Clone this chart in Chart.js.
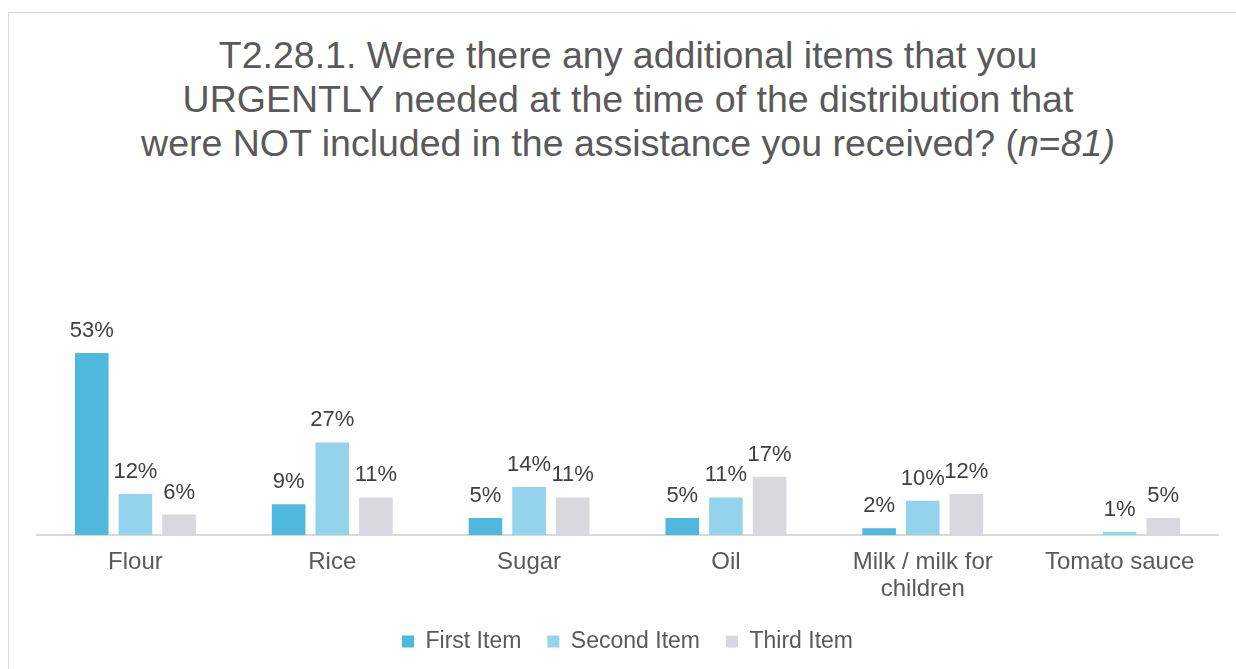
<!DOCTYPE html>
<html>
<head>
<meta charset="utf-8">
<script src="https://cdn.jsdelivr.net/npm/chart.js@4.4.1/dist/chart.umd.min.js"></script>
<style>
  html, body { margin: 0; padding: 0; background: #fff; }
  body { width: 1236px; height: 669px; overflow: hidden; position: relative; font-family: "Liberation Sans", Arial, sans-serif; }
  #frame { position: absolute; left: 8px; top: 12px; width: 1240px; height: 680px; border: 1px solid #d9d9d9; box-sizing: border-box; }
  #title { position: absolute; left: 10px; top: 33px; width: 1236px; text-align: center; color: #595959; font-size: 37.5px; line-height: 44px; }
  #wrap { position: absolute; left: 0; top: 0; width: 1236px; height: 669px; }
</style>
</head>
<body>
<div id="frame"></div>
<div id="title">T2.28.1. Were there any additional items that you<br>URGENTLY needed at the time of the distribution that<br>were NOT included in the assistance you received? (<i>n</i>=<i>81)</i></div>
<div id="wrap"><canvas id="items-chart"></canvas></div>
<script>
const categories = ['Flour', 'Rice', 'Sugar', 'Oil', ['Milk / milk for', 'children'], 'Tomato sauce'];
const firstItem = [53, 9, 5, 5, 2, null];
const secondItem = [12, 27, 14, 11, 10, 1];
const thirdItem = [6, 11, 11, 17, 12, 5];

const FONT = '"Liberation Sans", Arial, sans-serif';

// percentage labels above each bar
const barLabels = {
  id: 'barLabels',
  afterDatasetsDraw(chart) {
    const ctx = chart.ctx;
    ctx.save();
    ctx.font = '22px ' + FONT;
    ctx.fillStyle = '#404040';
    ctx.textAlign = 'center';
    ctx.textBaseline = 'alphabetic';
    chart.data.datasets.forEach((ds, i) => {
      chart.getDatasetMeta(i).data.forEach((bar, j) => {
        const v = ds.data[j];
        if (v === null || v === undefined) return;
        ctx.fillText(v + '%', bar.x, bar.y - 16);
      });
    });
    ctx.restore();
  }
};

const barStyle = {
  barPercentage: 0.77,
  categoryPercentage: 0.665,
  borderWidth: 0
};

new Chart(document.getElementById('items-chart'), {
  type: 'bar',
  data: {
    labels: categories,
    datasets: [{
      label: 'First Item',
      data: firstItem,
      backgroundColor: '#4eb8dd',
      ...barStyle
    }, {
      label: 'Second Item',
      data: secondItem,
      backgroundColor: '#93d3eb',
      ...barStyle
    }, {
      label: 'Third Item',
      data: thirdItem,
      backgroundColor: '#d7d9de',
      ...barStyle
    }]
  },
  options: {
    responsive: true,
    maintainAspectRatio: false,
    animation: false,
    layout: {
      padding: { left: 37, right: 18, top: 329, bottom: 6 }
    },
    plugins: {
      legend: {
        position: 'bottom',
        labels: {
          boxWidth: 12,
          boxHeight: 12,
          padding: 26,
          color: '#595959',
          font: { family: FONT, size: 23 }
        }
      },
      tooltip: { enabled: false }
    },
    scales: {
      x: {
        grid: { display: false, drawTicks: false },
        border: { color: '#d9d9d9', width: 2 },
        ticks: {
          color: '#595959',
          padding: 14,
          font: { family: FONT, size: 24, lineHeight: 1.12 },
          maxRotation: 0
        },
        // let the tick labels run into the legend's top padding
        afterFit(scale) {
          scale.height -= 13;
        }
      },
      y: {
        display: false,
        min: 0,
        max: 60
      }
    }
  },
  plugins: [barLabels]
});
</script>
</body>
</html>
